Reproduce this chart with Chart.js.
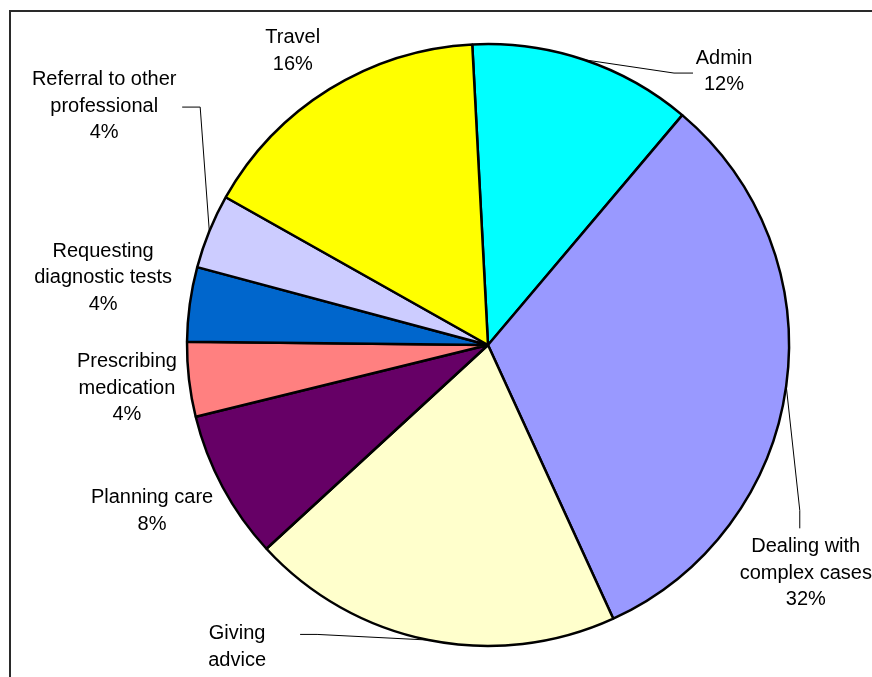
<!DOCTYPE html>
<html>
<head>
<meta charset="utf-8">
<script src="https://cdn.jsdelivr.net/npm/chart.js@4.4.0/dist/chart.umd.min.js"></script>
<style>
  body { margin: 0; background: #fff; }
</style>
</head>
<body>
<canvas id="graficoTiempo" width="872" height="677"></canvas>
<script>
// datos del grafico
const categorias = [
    ["Admin"],
    ["Dealing with", "complex cases"],
    ["Giving", "advice"],
    ["Planning care"],
    ["Prescribing", "medication"],
    ["Requesting", "diagnostic tests"],
    ["Referral to other", "professional"],
    ["Travel"]
];
const valores = [12, 32, 20, 8, 4, 4, 4, 16];
const colores = ["#00FFFF", "#9999FF", "#FFFFCC", "#660066", "#FF8080", "#0066CC", "#CCCCFF", "#FFFF00"];

// donde va cada etiqueta: [grados respecto al centro del sector, distancia en radios]
const posEtiqueta = [[22.2, 1.2], [27.9, 1.3], [27.1, 1.339], [1.9, 1.245], [-0.2, 1.208], [2.1, 1.298], [9.7, 1.502], [-1.8, 1.172]];
// lineas guia, puntos relativos al centro de la etiqueta (null = sin linea)
const guias = [
    [[-31, 1.5], [-50, 1.5]],
    [[-6, -45], [-6, -63]],
    [[63, -26], [80, -26]],
    null, null, null,
    [[78, 1], [96, 1]],
    null
];

const etiquetas = {
    id: "etiquetas",
    afterDraw(chart) {
        const ctx = chart.ctx;
        const arcos = chart.getDatasetMeta(0).data;
        const total = valores.reduce((a, b) => a + b, 0);

        // marco del area del grafico
        ctx.save();
        ctx.strokeStyle = "#2a2a2a";
        ctx.lineWidth = 2;
        ctx.strokeRect(10, 11, 900, 700);

        ctx.font = "20px 'Liberation Sans', Arial, sans-serif";
        ctx.fillStyle = "#000";
        ctx.textAlign = "center";
        ctx.textBaseline = "middle";

        arcos.forEach((arco, i) => {
            const p = arco.getProps(["x", "y", "startAngle", "endAngle", "outerRadius"], true);
            const medio = (p.startAngle + p.endAngle) / 2;
            const ang = medio + posEtiqueta[i][0] * Math.PI / 180;
            const tx = p.x + Math.cos(ang) * p.outerRadius * posEtiqueta[i][1];
            const ty = p.y + Math.sin(ang) * p.outerRadius * posEtiqueta[i][1];

            const lineas = categorias[i].concat([Math.round(valores[i] / total * 100) + "%"]);
            const alto = 26.5;
            lineas.forEach((txt, k) => {
                ctx.fillText(txt, tx, ty + (k - (lineas.length - 1) / 2) * alto);
            });

            if (guias[i]) {
                ctx.strokeStyle = "#000";
                ctx.lineWidth = 1;
                ctx.beginPath();
                ctx.moveTo(tx + guias[i][0][0], ty + guias[i][0][1]);
                ctx.lineTo(tx + guias[i][1][0], ty + guias[i][1][1]);
                ctx.lineTo(p.x + Math.cos(medio) * p.outerRadius, p.y + Math.sin(medio) * p.outerRadius);
                ctx.stroke();
            }
        });
        ctx.restore();
    }
};

const canva = document.getElementById("graficoTiempo").getContext("2d");
new Chart(canva, {
    type: "pie",
    data: {
        labels: categorias,
        datasets: [{
            data: valores,
            backgroundColor: colores,
            borderColor: "#000",
            borderWidth: 2.5,
            rotation: -3,
            radius: 301
        }]
    },
    options: {
        responsive: false,
        animation: false,
        events: [],
        layout: { padding: { left: 187, right: 83, top: 44, bottom: 31 } },
        plugins: {
            legend: { display: false },
            tooltip: { enabled: false }
        }
    },
    plugins: [etiquetas]
});
</script>
</body>
</html>
